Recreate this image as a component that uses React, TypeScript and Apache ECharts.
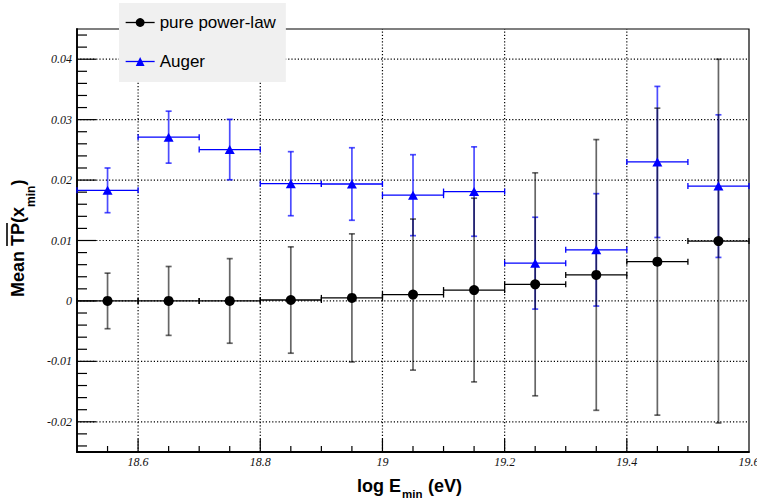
import React, { useEffect, useRef } from "react";
import * as echarts from "echarts";

// ---------- data ----------
const xCenters = [18.55, 18.65, 18.75, 18.85, 18.95, 19.05, 19.15, 19.25, 19.35, 19.45, 19.55];
const xHalfWidths = [0.05, 0.05, 0.05, 0.05, 0.05, 0.05, 0.05, 0.05, 0.05, 0.05, 0.05];

const powerY = [0.0, 0.0, 0.0, 0.00015, 0.0005, 0.00105, 0.0018, 0.00275, 0.0043, 0.0065, 0.0099];
const powerErr = [0.0046, 0.0057, 0.007, 0.0088, 0.0106, 0.0125, 0.0152, 0.01845, 0.0224, 0.0254, 0.0301];

const augerY = [0.0183, 0.0271, 0.02505, 0.0194, 0.01935, 0.0175, 0.0181, 0.00625, 0.00845, 0.023, 0.019];
const augerErr = [0.0037, 0.0043, 0.005, 0.0053, 0.006, 0.0067, 0.0074, 0.0076, 0.0093, 0.0125, 0.0118];

const seriesNames = ["pure power-law", "Auger"];

// ---------- axes ----------
const X_MIN = 18.5;
const X_MAX = 19.6;
const Y_MIN = -0.025;
const Y_MAX = 0.045;

const xTickLabels = ["18.6", "18.8", "19", "19.2", "19.4", "19.6"];
const yTickLabels = ["-0.02", "-0.01", "0", "0.01", "0.02", "0.03", "0.04"];
const xMajorTicks = [18.6, 18.8, 19.0, 19.2, 19.4];
const yMajorTicks = [-0.02, -0.01, 0, 0.01, 0.02, 0.03, 0.04];
const xMinorTicks = [18.55, 18.65, 18.7, 18.75, 18.85, 18.9, 18.95, 19.05, 19.1, 19.15, 19.25, 19.3, 19.35, 19.45, 19.5, 19.55];
const yMinorTicks = [
  -0.024, -0.022, -0.018, -0.016, -0.014, -0.012, -0.008, -0.006, -0.004, -0.002,
  0.002, 0.004, 0.006, 0.008, 0.012, 0.014, 0.016, 0.018, 0.022, 0.024, 0.026, 0.028,
  0.032, 0.034, 0.036, 0.038, 0.042, 0.044,
];

const FONT_SANS = "Liberation Sans";
const FONT_SERIF = "Liberation Serif";

type Decor = { kind: "vgrid" | "hgrid" | "xtick" | "ytick"; v: number; len?: number };
const decor: Decor[] = [
  ...xMajorTicks.map((v) => ({ kind: "vgrid" as const, v })),
  ...yMajorTicks.map((v) => ({ kind: "hgrid" as const, v })),
  ...xMajorTicks.map((v) => ({ kind: "xtick" as const, v, len: 13 })),
  ...xMinorTicks.map((v) => ({ kind: "xtick" as const, v, len: 6 })),
  ...yMajorTicks.map((v) => ({ kind: "ytick" as const, v, len: 19 })),
  ...yMinorTicks.map((v) => ({ kind: "ytick" as const, v, len: 10 })),
];

const gridStyle = { stroke: "#000", lineWidth: 1.2, lineDash: [1.2, 2] };

function decorRender(params: any, api: any) {
  const d = decor[params.dataIndex];
  if (d.kind === "vgrid") {
    const a = api.coord([d.v, Y_MIN]);
    const b = api.coord([d.v, Y_MAX]);
    return {
      type: "line",
      shape: { x1: a[0], y1: a[1], x2: b[0], y2: b[1] },
      style: gridStyle,
    };
  }
  if (d.kind === "hgrid") {
    const a = api.coord([X_MIN, d.v]);
    const b = api.coord([X_MAX, d.v]);
    return {
      type: "line",
      shape: { x1: a[0], y1: a[1], x2: b[0], y2: b[1] },
      style: gridStyle,
    };
  }
  if (d.kind === "xtick") {
    const a = api.coord([d.v, Y_MIN]);
    return {
      type: "line",
      shape: { x1: a[0], y1: a[1], x2: a[0], y2: a[1] - (d.len || 0) },
      style: { stroke: "#000", lineWidth: 1.2 },
    };
  }
  const a = api.coord([X_MIN, d.v]);
  return {
    type: "line",
    shape: { x1: a[0], y1: a[1], x2: a[0] + (d.len || 0), y2: a[1] },
    style: { stroke: "#000", lineWidth: 1.2 },
  };
}

function makeErrorRender(yArr: number[], errArr: number[], hColor: string, vColor: string, vOpacity: number) {
  return (params: any, api: any) => {
    const i = params.dataIndex;
    const x = xCenters[i];
    const y = yArr[i];
    const ex = xHalfWidths[i];
    const ey = errArr[i];
    const pL = api.coord([x - ex, y]);
    const pR = api.coord([x + ex, y]);
    const pT = api.coord([x, y + ey]);
    const pB = api.coord([x, y - ey]);
    const cap = 3;
    const hStyle = { stroke: hColor, lineWidth: 1.3 };
    const vStyle = { stroke: vColor, lineWidth: 1.7, opacity: vOpacity };
    return {
      type: "group",
      children: [
        { type: "line", shape: { x1: pL[0], y1: pL[1], x2: pR[0], y2: pR[1] }, style: hStyle },
        { type: "line", shape: { x1: pL[0], y1: pL[1] - cap, x2: pL[0], y2: pL[1] + cap }, style: hStyle },
        { type: "line", shape: { x1: pR[0], y1: pR[1] - cap, x2: pR[0], y2: pR[1] + cap }, style: hStyle },
        { type: "line", shape: { x1: pT[0], y1: pT[1], x2: pB[0], y2: pB[1] }, style: vStyle },
        { type: "line", shape: { x1: pT[0] - cap, y1: pT[1], x2: pT[0] + cap, y2: pT[1] }, style: vStyle },
        { type: "line", shape: { x1: pB[0] - cap, y1: pB[1], x2: pB[0] + cap, y2: pB[1] }, style: vStyle },
      ],
    };
  };
}

function txt(text: string, x: number, y: number, size: number, extra: any = {}) {
  return {
    type: "text",
    x,
    y,
    silent: true,
    style: {
      text,
      fontFamily: FONT_SANS,
      fontWeight: "bold",
      fontSize: size,
      fill: "#000",
      align: "left",
      textAlign: "left",
      verticalAlign: "middle",
      textVerticalAlign: "middle",
      ...extra,
    },
  };
}

function buildOption() {
  return {
    animation: false,
    backgroundColor: "#ffffff",
    grid: {
      left: 77,
      right: 8,
      top: 29,
      bottom: 49,
      show: true,
      borderColor: "#000",
      borderWidth: 1.2,
      backgroundColor: "transparent",
      containLabel: false,
      outerBoundsMode: "none",
    },
    xAxis: {
      type: "value",
      min: X_MIN,
      max: X_MAX,
      interval: 0.1,
      axisLine: { onZero: false, lineStyle: { color: "#000", width: 1.8 } },
      axisTick: { show: false },
      splitLine: { show: false },
      axisLabel: {
        margin: 4,
        fontFamily: FONT_SERIF,
        fontStyle: "italic",
        fontSize: 12,
        color: "#111",
        showMinLabel: true,
        showMaxLabel: true,
        hideOverlap: false,
        formatter: (v: number) => {
          const s = String(Math.round(v * 10) / 10);
          return xTickLabels.includes(s) ? s : "";
        },
      },
    },
    yAxis: {
      type: "value",
      min: Y_MIN,
      max: Y_MAX,
      interval: 0.005,
      axisLine: { onZero: false, lineStyle: { color: "#000", width: 1.8 } },
      axisTick: { show: false },
      splitLine: { show: false },
      axisLabel: {
        margin: 5,
        fontFamily: FONT_SERIF,
        fontStyle: "italic",
        fontSize: 12,
        color: "#111",
        showMinLabel: true,
        showMaxLabel: true,
        hideOverlap: false,
        formatter: (v: number) => {
          const s = String(Math.round(v * 1000) / 1000);
          return yTickLabels.includes(s) ? s : "";
        },
      },
    },
    legend: {
      show: true,
      orient: "vertical",
      left: 119,
      top: 3,
      padding: [11, 10, 12, 6],
      backgroundColor: "#f0f0f0",
      borderWidth: 0,
      itemWidth: 29,
      itemHeight: 11,
      itemGap: 22,
      selectedMode: false,
      z: 10,
      textStyle: { fontFamily: FONT_SANS, fontSize: 17, color: "#000" },
      data: [
        {
          name: seriesNames[0],
          lineStyle: { color: "#000", width: 1.3, opacity: 1 },
          itemStyle: { color: "#000", opacity: 1 },
        },
        {
          name: seriesNames[1],
          lineStyle: { color: "#0000ff", width: 1.3, opacity: 1 },
          itemStyle: { color: "#0000ff", opacity: 1 },
        },
      ],
    },
    graphic: [
      // x-axis title: log E_min (eV)
      txt("log E", 357, 486, 18),
      txt("min", 402, 494, 11.5),
      txt("(eV)", 428, 486, 18),
      // y-axis title: Mean TP(x_min) with overline over TP
      {
        type: "group",
        x: 18,
        y: 297,
        rotation: Math.PI / 2,
        silent: true,
        children: [
          txt("Mean", 0, 0, 18),
          txt("TP", 51, 0, 18),
          { type: "line", shape: { x1: 51, y1: -11, x2: 74, y2: -11 }, style: { stroke: "#000", lineWidth: 1.6 } },
          txt("(x", 74, 0, 18),
          txt("min", 90, 13, 12),
          txt(")", 111.5, 0, 18),
        ],
      },
    ],
    series: [
      {
        type: "custom",
        name: "decor",
        coordinateSystem: "cartesian2d",
        clip: false,
        silent: true,
        z: 1,
        data: decor.map((d) =>
          d.kind === "vgrid" || d.kind === "xtick" ? [d.v, Y_MIN] : [X_MIN, d.v]
        ),
        renderItem: decorRender,
      },
      {
        type: "custom",
        name: "auger-errors",
        coordinateSystem: "cartesian2d",
        clip: false,
        silent: true,
        z: 2,
        data: xCenters.map((x, i) => [x, augerY[i]]),
        renderItem: makeErrorRender(augerY, augerErr, "#0000ff", "#0000ff", 0.7),
      },
      {
        type: "custom",
        name: "power-errors",
        coordinateSystem: "cartesian2d",
        clip: false,
        silent: true,
        z: 3,
        data: xCenters.map((x, i) => [x, powerY[i]]),
        renderItem: makeErrorRender(powerY, powerErr, "#000", "#000", 0.6),
      },
      {
        type: "line",
        name: seriesNames[1],
        data: xCenters.map((x, i) => [x, augerY[i]]),
        symbol: "triangle",
        symbolSize: [10, 9],
        showSymbol: true,
        itemStyle: { color: "#0000ff", opacity: 1 },
        lineStyle: { opacity: 0 },
        emphasis: { disabled: true },
        silent: true,
        z: 4,
      },
      {
        type: "line",
        name: seriesNames[0],
        data: xCenters.map((x, i) => [x, powerY[i]]),
        symbol: "circle",
        symbolSize: 10,
        showSymbol: true,
        itemStyle: { color: "#000", opacity: 1 },
        lineStyle: { opacity: 0 },
        emphasis: { disabled: true },
        silent: true,
        z: 5,
      },
    ],
  };
}

export default function App() {
  const ref = useRef<HTMLDivElement>(null);
  useEffect(() => {
    if (!ref.current) return;
    const chart = echarts.init(ref.current, null, { renderer: "svg" });
    chart.setOption(buildOption() as any);
    return () => {
      chart.dispose();
    };
  }, []);
  return (
    <div
      ref={ref}
      style={{ position: "fixed", left: 0, top: 0, width: 757, height: 501, background: "#fff" }}
    />
  );
}
